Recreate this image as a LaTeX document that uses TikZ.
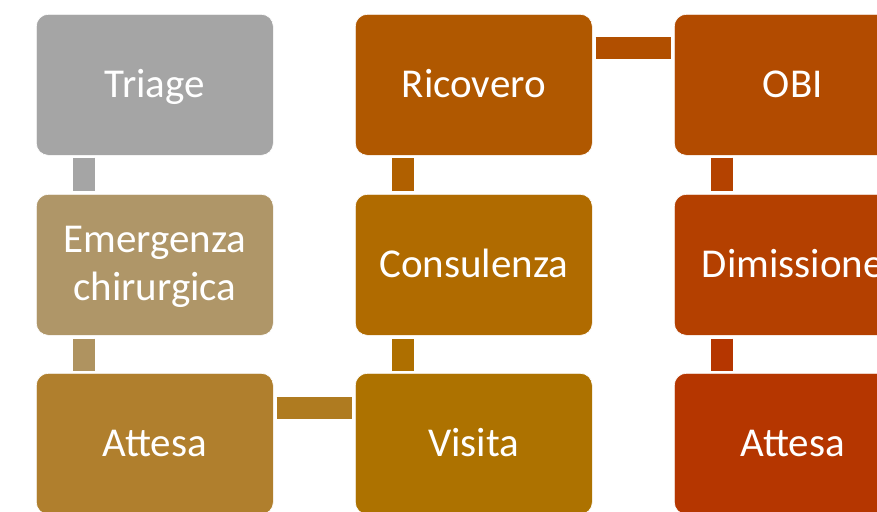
\documentclass[tikz,border=0pt]{standalone}
\usepackage{fontspec}
\setmainfont{Carlito}
\definecolor{cTri}{HTML}{A5A5A5}
\definecolor{cEme}{HTML}{AF9668}
\definecolor{cAtA}{HTML}{B07F2D}
\definecolor{cVis}{HTML}{AD7200}
\definecolor{cCon}{HTML}{B06B00}
\definecolor{cRic}{HTML}{B05800}
\definecolor{cOBI}{HTML}{B24B00}
\definecolor{cDim}{HTML}{B44000}
\definecolor{cAtB}{HTML}{B53600}
\tikzset{
  box/.style={rectangle, rounded corners=12pt, draw=white, line width=0.6pt,
    minimum width=237pt, minimum height=141pt, inner sep=0pt, anchor=north west,
    text=white, font=\fontsize{41pt}{48pt}\selectfont, align=center,
    text height=26pt, text depth=0pt},
  lbl/.style={text=white, font=\fontsize{41pt}{48pt}\selectfont, align=center, inner sep=0pt},
  bar/.style={line width=22pt},
}
\begin{document}
\begin{tikzpicture}[x=1pt,y=1pt]
\clip (0,0) rectangle (877,-511);
\fill[white] (0,0) rectangle (877,-511);
% column 1
\node[box, fill=cTri] (tri) at (36,-14) {Triage};
\node[box, fill=cEme, text height=, text depth=] (eme) at (36,-194) {};
\node[lbl] (emetxt) at ([yshift=-2pt]eme.center) {Emergenza\\chirurgica};
\node[box, fill=cAtA] (ata) at (36,-373) {Attesa};
% column 2
\node[box, fill=cRic] (ric) at (355,-14) {Ricovero};
\node[box, fill=cCon] (con) at (355,-194) {Consulenza};
\node[box, fill=cVis] (vis) at (355,-373) {Visita};
% column 3
\node[box, fill=cOBI] (obi) at (674,-14) {OBI};
\node[box, fill=cDim] (dim) at (674,-194) {Dimissione};
\node[box, fill=cAtB] (atb) at (674,-373) {Attesa};
% connectors
\draw[bar, cTri] ([xshift=48pt,yshift=-2pt]tri.south west) -- ([xshift=48pt,yshift=3pt]eme.north west);
\draw[bar, cEme!86!cAtA] ([xshift=48pt,yshift=-3pt]eme.south west) -- ([xshift=48pt,yshift=2pt]ata.north west);
\draw[bar, cAtA!71!cVis] ([xshift=3pt,yshift=-35pt]ata.north east) -- ([xshift=-3pt,yshift=-35pt]vis.north west);
\draw[bar, cVis!57!cCon] ([xshift=48pt,yshift=2pt]vis.north west) -- ([xshift=48pt,yshift=-3pt]con.south west);
\draw[bar, cCon!43!cRic] ([xshift=48pt,yshift=3pt]con.north west) -- ([xshift=48pt,yshift=-2pt]ric.south west);
\draw[bar, cRic!29!cOBI] ([xshift=3pt,yshift=-34pt]ric.north east) -- ([xshift=-3pt,yshift=-34pt]obi.north west);
\draw[bar, cOBI!14!cDim] ([xshift=48pt,yshift=-2pt]obi.south west) -- ([xshift=48pt,yshift=3pt]dim.north west);
\draw[bar, cDim!0!cAtB] ([xshift=48pt,yshift=-3pt]dim.south west) -- ([xshift=48pt,yshift=2pt]atb.north west);
\end{tikzpicture}
\end{document}
